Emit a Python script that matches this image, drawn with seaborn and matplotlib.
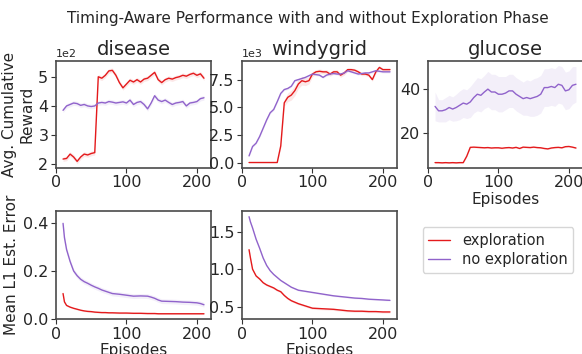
import numpy as np
import pandas as pd
import matplotlib.pyplot as plt
import seaborn as sns

# ── Data ─────────────────────────────────────────────────────────────────────
episodes = list(range(10, 211, 5))

disease_explore = [218, 220, 235, 225, 210, 225, 235, 232, 237, 240,
                   500, 495, 505, 520, 522, 505, 480, 462, 475, 488,
                   482, 490, 482, 492, 495, 505, 515, 490, 480, 490,
                   495, 492, 497, 500, 505, 502, 508, 512, 505, 510, 495]
disease_noexplore = [385, 400, 405, 410, 408, 402, 405, 400, 398, 400,
                     410, 412, 410, 415, 413, 410, 412, 414, 410, 420,
                     405, 412, 415, 405, 390, 410, 435, 420, 415, 420,
                     412, 405, 410, 412, 415, 400, 410, 412, 415, 425, 428]

windy_explore = [0.0, 0.0, 0.0, 0.0, 0.0, 0.0, 0.0, 0.0, 0.0, 1.5,
                 5.4, 5.9, 6.1, 6.5, 7.1, 7.4, 7.3, 7.4, 8.0, 8.2,
                 8.25, 8.2, 8.2, 8.0, 8.2, 8.2, 7.9, 8.1, 8.4, 8.4,
                 8.35, 8.2, 8.0, 8.0, 7.9, 7.5, 8.2, 8.6, 8.4, 8.4, 8.4]
windy_noexplore = [0.6, 1.45, 1.75, 2.35, 3.1, 3.85, 4.5, 4.8, 5.5, 6.25,
                   6.6, 6.7, 6.9, 7.4, 7.5, 7.6, 7.7, 7.85, 8.0, 7.95,
                   7.9, 7.7, 7.9, 8.0, 8.05, 8.0, 8.0, 8.1, 8.3, 8.2,
                   8.1, 8.0, 8.05, 8.1, 8.1, 8.2, 8.3, 8.25, 8.2, 8.2, 8.2]
windy_explore_sd = [0.0, 0.0, 0.0, 0.0, 0.0, 0.0, 0.0, 0.0, 0.0, 0.2,
                    0.3, 0.4, 0.45, 0.45, 0.4, 0.4, 0.35, 0.3, 0.25, 0.2,
                    0.2, 0.2, 0.2, 0.2, 0.2, 0.2, 0.2, 0.2, 0.15, 0.15,
                    0.15, 0.15, 0.15, 0.15, 0.15, 0.15, 0.15, 0.15, 0.15, 0.15, 0.15]

glucose_explore = [6.6, 6.6, 6.5, 6.6, 6.5, 6.6, 6.5, 6.6, 6.6, 9.5,
                   13.5, 13.6, 13.5, 13.4, 13.3, 13.4, 13.2, 13.3, 13.3, 13.1,
                   13.3, 13.4, 13.2, 13.5, 13.0, 13.6, 13.5, 13.4, 13.6, 13.4,
                   13.3, 13.0, 12.8, 13.2, 13.4, 13.5, 13.3, 13.8, 13.9, 13.6, 13.2]
glucose_noexplore = [32.0, 30.0, 30.0, 30.5, 31.5, 30.8, 31.5, 32.5, 33.5, 33.0,
                     34.0, 36.0, 37.5, 37.0, 38.5, 39.8, 38.5, 38.5, 37.5, 37.5,
                     38.0, 39.0, 39.0, 37.5, 36.5, 35.5, 36.0, 35.5, 36.0, 36.5,
                     37.5, 40.5, 40.5, 41.0, 40.5, 42.0, 41.5, 39.0, 39.5, 41.5, 42.0]
glucose_noexplore_sd = [6.5, 5.0, 5.0, 5.5, 5.5, 5.5, 6.0, 6.5, 6.5, 6.5,
                        7.0, 7.0, 7.5, 7.5, 7.5, 8.0, 8.0, 8.0, 8.0, 8.0,
                        7.5, 7.5, 7.5, 7.5, 7.5, 7.5, 8.0, 8.0, 8.5, 8.5,
                        8.5, 8.5, 8.5, 8.5, 8.5, 8.5, 8.5, 8.5, 8.5, 8.5, 8.0]

err_episodes = [10, 12, 15, 20, 25, 30, 35, 40, 45, 50, 55, 60, 65, 70, 75,
                80, 90, 100, 110, 120, 130, 135, 140, 145, 150, 160, 170,
                180, 190, 200, 205, 210]
disease_err_explore = [0.105, 0.07, 0.055, 0.048, 0.043, 0.039, 0.035, 0.032,
                       0.030, 0.029, 0.027, 0.026, 0.025, 0.025, 0.024, 0.024,
                       0.023, 0.023, 0.022, 0.022, 0.021, 0.021, 0.021, 0.020,
                       0.020, 0.020, 0.020, 0.020, 0.020, 0.020, 0.020, 0.020]
disease_err_noexplore = [0.40, 0.34, 0.29, 0.24, 0.20, 0.18, 0.165, 0.155,
                         0.148, 0.14, 0.133, 0.127, 0.12, 0.115, 0.11, 0.105,
                         0.102, 0.098, 0.094, 0.095, 0.094, 0.09, 0.085, 0.078,
                         0.073, 0.072, 0.071, 0.069, 0.068, 0.066, 0.063, 0.058]
windy_err_explore = [1.26, 1.15, 1.0, 0.91, 0.87, 0.82, 0.79, 0.77, 0.75,
                     0.72, 0.70, 0.65, 0.61, 0.58, 0.56, 0.54, 0.51, 0.48,
                     0.475, 0.47, 0.465, 0.46, 0.455, 0.45, 0.445, 0.44,
                     0.44, 0.435, 0.435, 0.43, 0.43, 0.43]
windy_err_noexplore = [1.70, 1.63, 1.55, 1.40, 1.28, 1.15, 1.05, 0.98, 0.93,
                       0.89, 0.85, 0.82, 0.79, 0.76, 0.74, 0.72, 0.705, 0.69,
                       0.675, 0.66, 0.645, 0.64, 0.635, 0.63, 0.625, 0.615,
                       0.61, 0.60, 0.595, 0.59, 0.587, 0.585]

RED = "#e41a1c"
PURPLE = "#9063cb"

# ── Style ────────────────────────────────────────────────────────────────────
sns.set_style("ticks")
plt.rcParams["font.family"] = ["DejaVu Sans"]
plt.rcParams["axes.linewidth"] = 1.2
plt.rcParams["axes.edgecolor"] = "#4a4a4a"

fig = plt.figure(figsize=(5.82, 3.54), dpi=100)
W, H = 582, 354


def add_ax(left, top, right, bottom):
    return fig.add_axes([left / W, 1 - bottom / H, (right - left) / W, (bottom - top) / H])


ax_d = add_ax(56, 61, 211, 167.5)
ax_w = add_ax(242, 61, 397, 167.5)
ax_g = add_ax(428, 61, 583, 167.5)
ax_de = add_ax(56, 211, 211, 319)
ax_we = add_ax(242, 211, 397, 319)


def draw(ax, x, y, color, sd=None, scale=1.0):
    y = np.asarray(y, dtype=float) * scale
    sns.lineplot(x=x, y=y, ax=ax, color=color, lw=1.0, errorbar=None)
    if sd is not None:
        sd = np.asarray(sd, dtype=float) * scale
        ax.fill_between(x, y - sd, y + sd, color=color, alpha=0.1, lw=0)


draw(ax_d, episodes, disease_explore, RED, sd=8)
draw(ax_d, episodes, disease_noexplore, PURPLE, sd=8)
draw(ax_w, episodes, windy_explore, RED, sd=windy_explore_sd, scale=1000)
draw(ax_w, episodes, windy_noexplore, PURPLE, sd=0.1, scale=1000)
draw(ax_g, episodes, glucose_explore, RED, sd=0.3)
draw(ax_g, episodes, glucose_noexplore, PURPLE, sd=glucose_noexplore_sd)
draw(ax_de, err_episodes, disease_err_explore, RED, sd=0.003)
draw(ax_de, err_episodes, disease_err_noexplore, PURPLE, sd=0.01)
draw(ax_we, err_episodes, windy_err_explore, RED, sd=0.015)
draw(ax_we, err_episodes, windy_err_noexplore, PURPLE, sd=0.01)

ax_d.set_ylim(189, 554)
ax_w.set_ylim(-450, 9180)
ax_g.set_ylim(4.4, 52.5)
ax_de.set_ylim(-0.002, 0.452)
ax_we.set_ylim(0.336, 1.776)

ax_d.set_yticks([200, 300, 400, 500])
ax_w.set_yticks([0, 2500, 5000, 7500])
ax_g.set_yticks([20, 40])
ax_de.set_yticks([0.0, 0.2, 0.4])
ax_we.set_yticks([0.5, 1.0, 1.5])

for ax in [ax_d, ax_w]:
    ax.ticklabel_format(axis="y", style="sci", scilimits=(0, 0))
    ax.yaxis.get_offset_text().set_fontsize(8)

for ax, title in zip([ax_d, ax_w, ax_g], ["disease", "windygrid", "glucose"]):
    ax.set_title(title, fontsize=14, pad=4)

for ax in [ax_d, ax_w, ax_g, ax_de, ax_we]:
    ax.set_xlim(0, 220)
    ax.set_xticks([0, 100, 200])
    ax.tick_params(labelsize=11.5, length=3.5, pad=2, color="#333333")
    ax.set_xlabel("")
    ax.set_ylabel("")

for ax in [ax_g, ax_de, ax_we]:
    ax.set_xlabel("Episodes", fontsize=11, labelpad=1)

ax_d.set_ylabel("Avg. Cumulative\nReward", fontsize=11, labelpad=3)
ax_de.set_ylabel("Mean L1 Est. Error", fontsize=11, labelpad=3)

fig.suptitle("Timing-Aware Performance with and without Exploration Phase",
             fontsize=11, x=0.529, y=0.97)

handles = [plt.Line2D([], [], color=RED, lw=1.0),
           plt.Line2D([], [], color=PURPLE, lw=1.0)]
fig.legend(handles, ["exploration", "no exploration"], fontsize=10.5,
           loc="center", bbox_to_anchor=(498 / W, 1 - 250 / H),
           frameon=True, handlelength=1.5, borderpad=0.4, labelspacing=0.3)

fig.savefig("out.png", dpi=100)
